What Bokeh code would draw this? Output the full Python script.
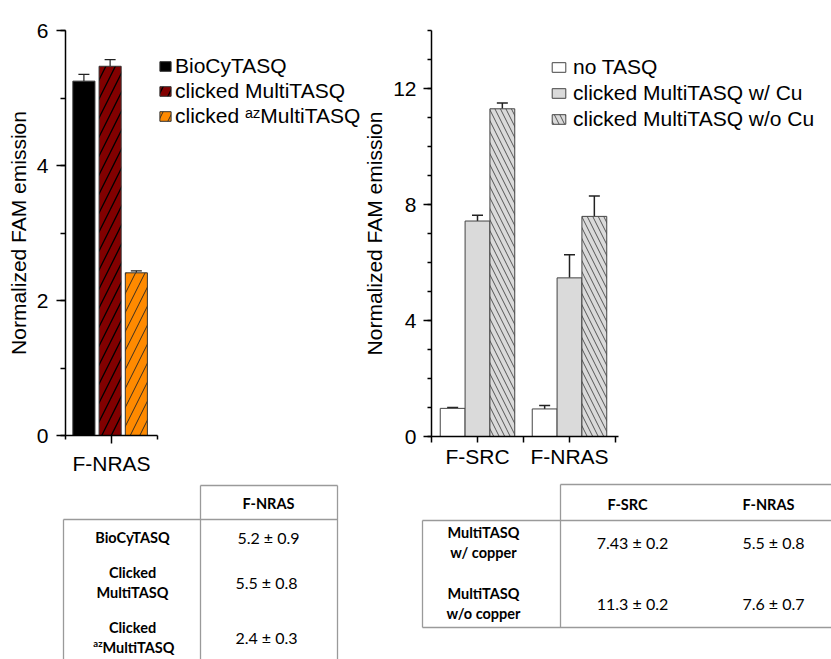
from bokeh.plotting import figure
from bokeh.layouts import column, row
from bokeh.models import (ColumnDataSource, Range1d, SingleIntervalTicker, FixedTicker,
                          Legend, LegendItem, Whisker, TeeHead)
from bokeh.transform import dodge
from bokeh.embed import file_html
from bokeh.resources import INLINE
from bokeh.core.properties import value

# ---------------- data ----------------
left_groups = ["F-NRAS"]
left_series = ["BioCyTASQ", "clicked MultiTASQ", "clicked \u1d43\u1dbbMultiTASQ"]
left_values = [5.25, 5.47, 2.41]
left_errors = [0.10, 0.10, 0.03]

right_groups = ["F-SRC", "F-NRAS"]
right_series = ["no TASQ", "clicked MultiTASQ w/ Cu", "clicked MultiTASQ w/o Cu"]
no_tasq = [0.97, 0.95]
no_tasq_err = [0.03, 0.12]
w_cu = [7.43, 5.47]
w_cu_err = [0.20, 0.80]
wo_cu = [11.30, 7.59]
wo_cu_err = [0.20, 0.70]

left_table_header = ["F-NRAS"]
left_table_rows = [["BioCyTASQ"], ["Clicked", "MultiTASQ"], ["Clicked", "az|MultiTASQ"]]
left_table_vals = ["5.2 \u00b1 0.9", "5.5  \u00b1 0.8", "2.4  \u00b1 0.3"]

right_table_header = ["F-SRC", "F-NRAS"]
right_table_rows = [["MultiTASQ", "w/ copper"], ["MultiTASQ", "w/o copper"]]
right_table_vals = [["7.43 \u00b1 0.2", "5.5 \u00b1 0.8"], ["11.3 \u00b1 0.2", "7.6 \u00b1 0.7"]]

FONT = "Liberation Sans"
TFONT = "Lato"
FS = "21px"
PX_PER_GROUP = 92.0


def style_axes(p):
    for ax in (p.xaxis[0], p.yaxis[0]):
        ax.axis_line_width = 1.5
        ax.axis_line_color = "black"
        ax.major_tick_line_width = 1.5
        ax.minor_tick_line_width = 1.5
        ax.major_tick_line_color = "black"
        ax.minor_tick_line_color = "black"
        ax.major_tick_in = 0
        ax.minor_tick_in = 0
        ax.major_label_text_font = FONT
        ax.major_label_text_font_size = FS
        ax.major_label_text_color = "black"
        ax.axis_label_text_font = FONT
        ax.axis_label_text_font_size = FS
        ax.axis_label_text_font_style = "normal"
        ax.axis_label_text_color = "black"
    p.xgrid.grid_line_color = None
    p.ygrid.grid_line_color = None
    p.outline_line_color = None


def style_legend(lg, glyph_w, glyph_h, standoff, spacing):
    lg.border_line_color = None
    lg.background_fill_alpha = 0
    lg.padding = 0
    lg.margin = 0
    lg.spacing = spacing
    lg.glyph_width = glyph_w
    lg.glyph_height = glyph_h
    lg.label_standoff = standoff
    lg.label_height = 20
    lg.label_text_font = FONT
    lg.label_text_font_size = FS
    lg.label_text_color = "black"


# ---------------- left chart ----------------
L_FRAME_W = 295
pl = figure(frame_width=L_FRAME_W, frame_height=405, min_border_left=65, min_border_right=0,
            min_border_top=30, min_border_bottom=43,
            x_range=Range1d(0, L_FRAME_W / PX_PER_GROUP), y_range=Range1d(0, 6),
            output_backend="svg", toolbar_location=None)
style_axes(pl)
pl.yaxis.ticker = SingleIntervalTicker(interval=2, num_minor_ticks=2)
pl.yaxis.major_tick_out = 9
pl.yaxis.minor_tick_out = 5
pl.yaxis.major_label_standoff = 8
pl.yaxis.axis_label_standoff = 4
pl.yaxis.axis_label = "Normalized FAM emission"
pl.xaxis.ticker = FixedTicker(ticks=[i + 0.5 for i in range(len(left_groups))],
                              minor_ticks=[float(i) for i in range(len(left_groups) + 1)])
pl.xaxis.major_label_overrides = {i + 0.5: g for i, g in enumerate(left_groups)}
pl.xaxis.bounds = (0, len(left_groups))
pl.xaxis.major_tick_out = 8
pl.xaxis.minor_tick_out = 4
pl.xaxis.major_label_standoff = 8

lsrc = ColumnDataSource(dict(
    x=[i + 0.5 for i in range(len(left_groups))],
    v0=[left_values[0]], v1=[left_values[1]], v2=[left_values[2]],
    u0=[left_values[0] + left_errors[0]], u1=[left_values[1] + left_errors[1]],
    u2=[left_values[2] + left_errors[2]],
))
l_offsets = [-0.30, -0.015, 0.27]
l_fill = ["#000000", "#820000", "#ff8a00"]
l_hatch = [None, "right_diagonal_line", "right_diagonal_line"]
l_hcolor = [None, "#000000", "#222222"]
l_hweight = [None, 1.3, 0.9]
l_items = []
for k in range(3):
    kw = {}
    if l_hatch[k]:
        kw = dict(hatch_pattern=l_hatch[k], hatch_color=l_hcolor[k], hatch_scale=19,
                  hatch_weight=l_hweight[k])
    r = pl.vbar(x=dodge("x", l_offsets[k]), top="v%d" % k, width=0.24, source=lsrc,
                fill_color=l_fill[k], line_color="#333333", line_width=1, **kw)
    l_items.append(LegendItem(label=left_series[k], renderers=[r]))
    pl.add_layout(Whisker(source=lsrc, base=dodge("x", l_offsets[k]), lower="v%d" % k, upper="u%d" % k,
                          line_color="#222222", line_width=1.2, lower_head=None,
                          upper_head=TeeHead(size=11, line_color="#222222", line_width=1.2)))
lgl = Legend(items=l_items, location=(93, 307))
style_legend(lgl, 14, 12, 3, 1)
pl.add_layout(lgl, "center")

# ---------------- right chart ----------------
R_FRAME_W = 403
pr = figure(frame_width=R_FRAME_W, frame_height=406, min_border_left=68, min_border_right=0,
            min_border_top=30, min_border_bottom=42,
            x_range=Range1d(0, R_FRAME_W / PX_PER_GROUP), y_range=Range1d(0, 14),
            output_backend="svg", toolbar_location=None)
style_axes(pr)
pr.yaxis.ticker = SingleIntervalTicker(interval=4, num_minor_ticks=4)
pr.yaxis.major_tick_out = 8
pr.yaxis.minor_tick_out = 4
pr.yaxis.major_label_standoff = 7
pr.yaxis.axis_label_standoff = 4
pr.yaxis.axis_label = "Normalized FAM emission"
pr.xaxis.ticker = FixedTicker(ticks=[i + 0.5 for i in range(len(right_groups))],
                              minor_ticks=[float(i) for i in range(len(right_groups) + 1)])
pr.xaxis.major_label_overrides = {i + 0.5: g for i, g in enumerate(right_groups)}
pr.xaxis.bounds = (0, len(right_groups) + 0.03)
pr.xaxis.major_tick_out = 6
pr.xaxis.minor_tick_out = 6
pr.xaxis.major_label_standoff = 2

series_vals = [no_tasq, w_cu, wo_cu]
series_errs = [no_tasq_err, w_cu_err, wo_cu_err]
rdata = dict(x=[i + 0.5 for i in range(len(right_groups))])
for k in range(3):
    rdata["v%d" % k] = series_vals[k]
    rdata["u%d" % k] = [v + e for v, e in zip(series_vals[k], series_errs[k])]
rsrc = ColumnDataSource(rdata)
r_offsets = [-0.27, 0.0, 0.27]
r_fill = ["#ffffff", "#dadada", "#dadada"]
r_hatch = [None, None, "left_diagonal_line"]
r_items = []
for k in range(3):
    kw = {}
    if r_hatch[k]:
        kw = dict(hatch_pattern=r_hatch[k], hatch_color="#555555", hatch_scale=11, hatch_weight=1)
    r = pr.vbar(x=dodge("x", r_offsets[k]), top="v%d" % k, width=0.27, source=rsrc,
                fill_color=r_fill[k], line_color="#444444", line_width=1, **kw)
    r_items.append(LegendItem(label=right_series[k], renderers=[r]))
    pr.add_layout(Whisker(source=rsrc, base=dodge("x", r_offsets[k]), lower="v%d" % k, upper="u%d" % k,
                          line_color="#222222", line_width=1.5, lower_head=None,
                          upper_head=TeeHead(size=11, line_color="#222222", line_width=1.5)))
lgr = Legend(items=r_items, location=(119, 305))
style_legend(lgr, 17, 12, 6, 2)
pr.add_layout(lgr, "center")

# ---------------- tables ----------------
TH = 181
pt = figure(width=831, height=TH, x_range=Range1d(0, 831), y_range=Range1d(TH, 0),
            min_border=0, output_backend="svg", toolbar_location=None)
pt.xaxis.visible = False
pt.yaxis.visible = False
pt.xgrid.grid_line_color = None
pt.ygrid.grid_line_color = None
pt.outline_line_color = None

grid_color = "#9a9a9a"
# left table lines
pt.segment(x0=[200, 200, 337, 63, 63], y0=[7, 7, 7, 41, 41],
           x1=[337, 200, 337, 337, 63], y1=[7, TH, TH, 41, TH],
           line_color=grid_color, line_width=1.3)
# right table lines
pt.segment(x0=[560, 560, 422, 422, 422], y0=[6, 6, 42, 42, 149],
           x1=[831, 560, 831, 422, 831], y1=[6, 149, 42, 149, 149],
           line_color=grid_color, line_width=1.3)

bold = dict(text_font=value(TFONT), text_font_style="bold", text_font_size="14.5px",
            text_align="center", text_baseline="middle", text_color="black")
reg = dict(text_font=value(TFONT), text_font_style="normal", text_font_size="16px",
           text_align="center", text_baseline="middle", text_color="black")

# left table text
pt.text(x=[268], y=[25], text=left_table_header, **bold)
l_row_y = [59, 104, 159]
lx, ly, lt = [], [], []
for yc, lines in zip(l_row_y, left_table_rows):
    n = len(lines)
    for j, t in enumerate(lines):
        yy = yc + (j - (n - 1) / 2) * 20
        if "|" in t:
            sup, main = t.split("|")
            pt.text(x=[102], y=[yy], text=[main], **dict(bold, text_align="left"))
            pt.text(x=[102], y=[yy - 4], text=[sup], **dict(bold, text_align="right", text_font_size="9.5px"))
        else:
            lx.append(132); ly.append(yy); lt.append(t)
pt.text(x=lx, y=ly, text=lt, **bold)
pt.text(x=[268] * len(left_table_vals), y=l_row_y, text=left_table_vals, **reg)

# right table text
r_col_x = [627, 768]
pt.text(x=r_col_x, y=[26, 26], text=right_table_header, **bold)
r_row_y = [64, 125]
rx, ry, rt = [], [], []
for yc, lines in zip(r_row_y, right_table_rows):
    n = len(lines)
    for j, t in enumerate(lines):
        rx.append(483); ry.append(yc + (j - (n - 1) / 2) * 20); rt.append(t)
pt.text(x=rx, y=ry, text=rt, **bold)
vx, vy, vt = [], [], []
for yc, vals in zip(r_row_y, right_table_vals):
    for xc, t in zip(r_col_x, vals):
        vx.append(xc + 5); vy.append(yc); vt.append(t)
pt.text(x=vx, y=vy, text=vt, **reg)

layout = column(row(pl, pr), pt)
open("out.html", "w").write(file_html(layout, INLINE))
